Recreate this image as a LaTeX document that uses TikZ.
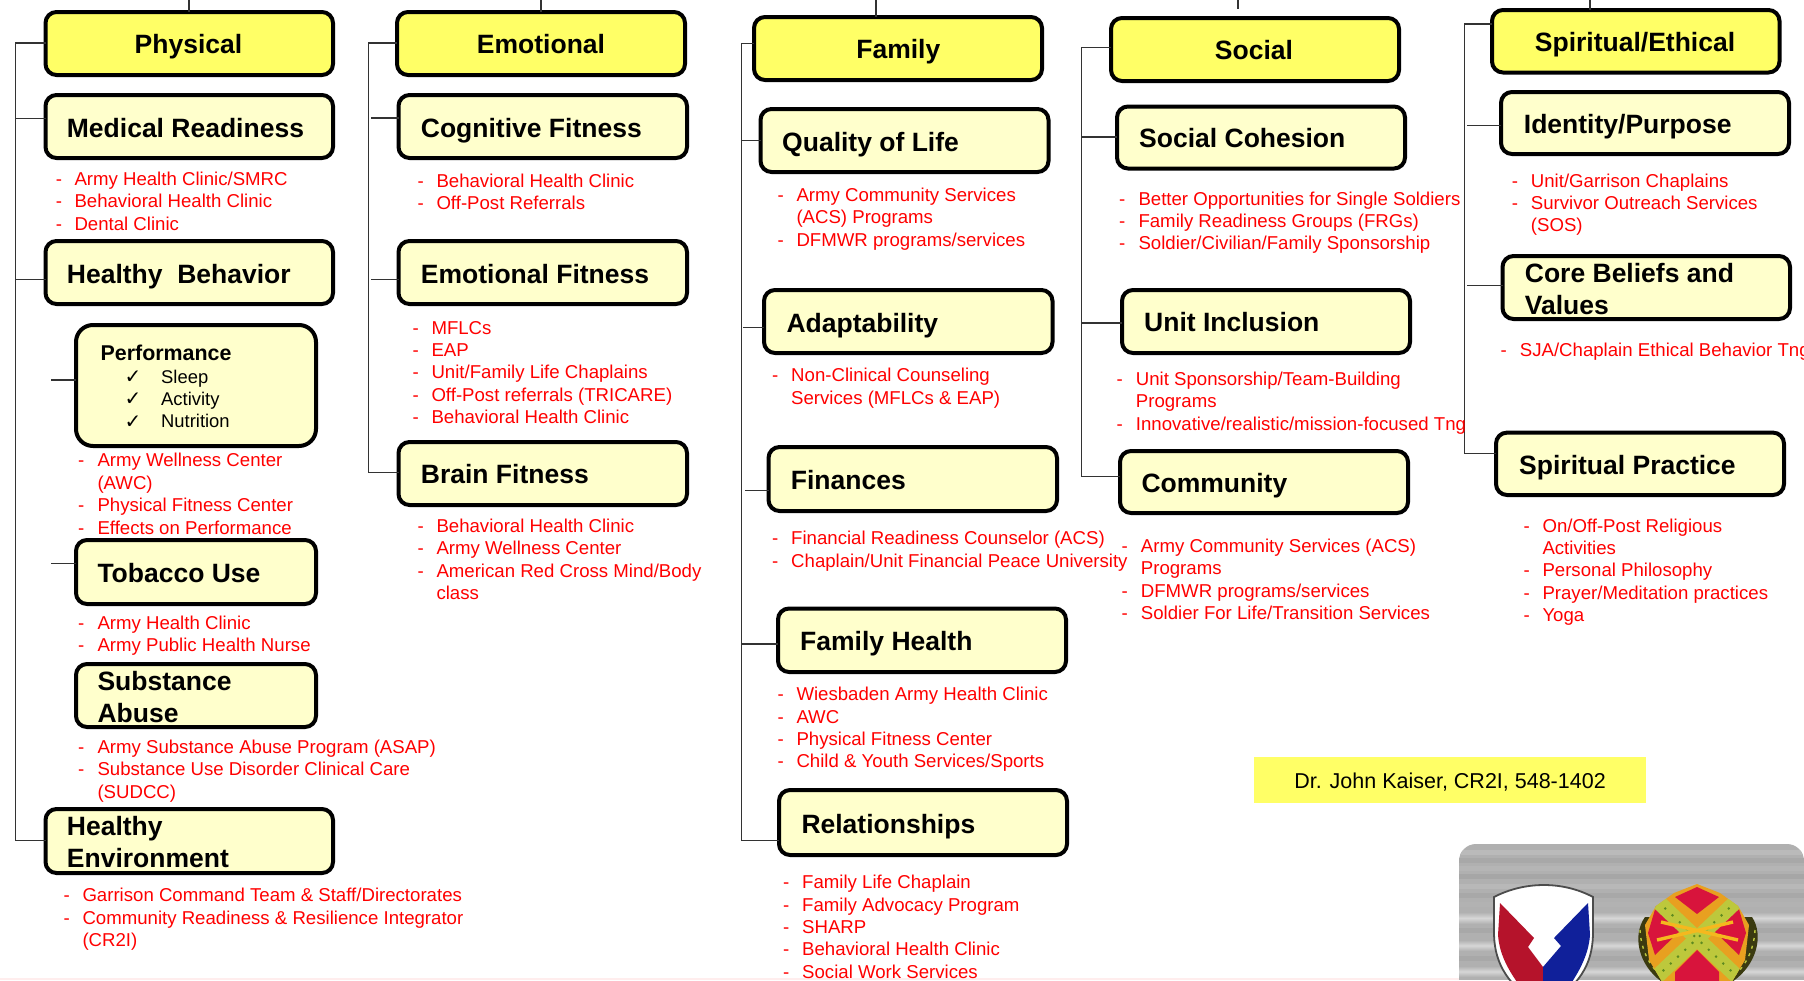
\documentclass[tikz,border=0pt]{standalone}
\usepackage{fontspec}
\setmainfont{Liberation Sans}
\newfontfamily\djfont{DejaVu Sans}
\definecolor{hdyellow}{HTML}{FFFF66}
\definecolor{boxyellow}{HTML}{FFFFCC}
\definecolor{redtxt}{HTML}{FF0000}
\definecolor{linegray}{HTML}{333333}
\definecolor{shieldred}{HTML}{B5132B}
\definecolor{shieldblue}{HTML}{10209A}
\definecolor{embred}{HTML}{D8143C}
\definecolor{embborder}{HTML}{E8A020}
\definecolor{embband}{HTML}{BDC83C}
\definecolor{embdot}{HTML}{5E8A20}
\definecolor{embwreath}{HTML}{3A3A10}
\definecolor{embsword}{HTML}{F5B81E}
\newcount\itemctr
\tikzset{
  x=1pt,y=-1pt,
  hdbox/.style={draw=black,line width=4pt,rounded corners=11pt,fill=hdyellow},
  subbox/.style={draw=black,line width=4pt,rounded corners=11pt,fill=boxyellow},
  conn/.style={draw=linegray,line width=1.3pt},
  boxtitle/.style={anchor=base west,inner sep=0pt,xshift=-1pt,font=\fontsize{26.5}{32}\selectfont\bfseries},
  hdtitle/.style={anchor=base,inner sep=0pt,font=\fontsize{26.5}{32}\selectfont\bfseries},
  redtext/.style={anchor=base west,inner sep=0pt,xshift=-1pt,text=redtxt,font=\fontsize{18.62}{22}\selectfont},
  perfhead/.style={anchor=base west,inner sep=0pt,font=\fontsize{21.4}{25}\selectfont\bfseries},
  perftext/.style={anchor=base west,inner sep=0pt,font=\fontsize{18.4}{22}\selectfont},
  checkmark/.style={anchor=base west,inner sep=0pt,font=\djfont\fontsize{20}{22}\selectfont},
}
% box: name, style, x1, y1, x2, y2
\newcommand{\bx}[6]{\node[#2,inner sep=0pt,minimum width={#5pt-#3pt},minimum height={#6pt-#4pt},outer sep=0pt,anchor=north west,rectangle] (#1) at (#3,#4) {};}
% red list: dashx, textx, baseline, text
\newcommand{\rl}[4]{\global\advance\itemctr by 1
  \node[redtext] (d\the\itemctr) at (#1,#3) {-};
  \node[redtext] (t\the\itemctr) at (#2,#3) {#4};}
% continuation line
\newcommand{\rc}[3]{\global\advance\itemctr by 1
  \node[redtext] (t\the\itemctr) at (#1,#2) {#3};}
\begin{document}
\begin{tikzpicture}
\useasboundingbox (0,0) rectangle (1804,980);
\fill[white] (0,0) rectangle (1804,980);
\fill[white!93!red] (0,978) rectangle (1459,980);

% top stubs and spine coordinates
\coordinate (top1) at (189,0);
\coordinate (top2) at (541,0);
\coordinate (top3) at (876,0);
\coordinate (top4) at (1238,0);
\coordinate (top5) at (1590,0);
\coordinate (top4end) at (1238,9);

\coordinate (sp1a) at (15.5,43);   \coordinate (sp1b) at (15.5,840.7);
\coordinate (sp2a) at (368.7,43);  \coordinate (sp2b) at (368.7,472.5);
\coordinate (sp3a) at (741.5,43.3);\coordinate (sp3b) at (741.5,840.5);
\coordinate (sp4a) at (1081.7,47.8);\coordinate (sp4b) at (1081.7,476.7);
\coordinate (sp5a) at (1464.7,24); \coordinate (sp5b) at (1464.7,453.5);
\coordinate (st1a) at (15.5,118.3);\coordinate (st1b) at (15.5,279.3);
\coordinate (st1c) at (51,380);    \coordinate (st1d) at (51,563.7);
\coordinate (st2a) at (371,118);   \coordinate (st2b) at (371,279.6);
\coordinate (st3a) at (742,140.7); \coordinate (st3b) at (743,327.7);
\coordinate (st3c) at (745,490.7); \coordinate (st3d) at (741.5,644);
\coordinate (st4a) at (1081.7,137);\coordinate (st4b) at (1081.7,323);
\coordinate (st5a) at (1467,125.7);\coordinate (st5b) at (1467,285.7);

% Boxes
\bx{physical}{hdbox}{45.5}{12}{333}{75}
\bx{medical}{subbox}{45.5}{95}{333}{158}
\bx{behavior}{subbox}{45.5}{241}{333}{304}
\bx{performance}{subbox,rounded corners=17pt}{76}{325}{316}{446}
\bx{tobacco}{subbox}{76}{540}{316}{604}
\bx{substance}{subbox}{76}{664}{316}{727}
\bx{environment}{subbox}{45.5}{809}{333}{873}

\bx{emotional}{hdbox}{397}{12}{685}{75}
\bx{cognitive}{subbox}{398.5}{95}{687}{158}
\bx{emofit}{subbox}{398.5}{241}{687}{304}
\bx{brain}{subbox}{398.5}{442}{687}{505}

\bx{family}{hdbox}{754}{17}{1042}{80}
\bx{quality}{subbox}{760.5}{109}{1048.5}{172}
\bx{adapt}{subbox}{764}{290}{1052.5}{353}
\bx{finances}{subbox}{768.5}{447}{1057}{511}
\bx{famhealth}{subbox}{778}{608.5}{1066}{672}
\bx{relation}{subbox}{779}{790}{1067}{855}

\bx{social}{hdbox}{1111}{18}{1399}{81}
\bx{cohesion}{subbox}{1117}{106.5}{1405}{168.5}
\bx{unit}{subbox}{1122}{290}{1410}{353}
\bx{community}{subbox}{1120}{451}{1408}{513}

\bx{spiritual}{hdbox}{1492}{10}{1779.5}{72.5}
\bx{identity}{subbox}{1501}{92}{1789}{154}
\bx{core}{subbox}{1502.5}{256}{1790}{319}
\bx{practice}{subbox}{1496}{432.6}{1784}{495}

% Connectors
\draw[conn] (top1) -- (top1|-physical.north);
\draw[conn] (top2) -- (top2|-emotional.north);
\draw[conn] (top3) -- (top3|-family.north);
\draw[conn] (top4) -- (top4end);
\draw[conn] (top5) -- (top5|-spiritual.north);
\draw[conn] (physical.west|-sp1a) -- (sp1a) -- (sp1b) -- (environment.west|-sp1b);
\draw[conn] (st1a) -- (medical.west|-st1a);
\draw[conn] (st1b) -- (behavior.west|-st1b);
\draw[conn] (st1c) -- (performance.west|-st1c);
\draw[conn] (st1d) -- (tobacco.west|-st1d);
\draw[conn] (emotional.west|-sp2a) -- (sp2a) -- (sp2b) -- (brain.west|-sp2b);
\draw[conn] (st2a) -- (cognitive.west|-st2a);
\draw[conn] (st2b) -- (emofit.west|-st2b);
\draw[conn] (family.west|-sp3a) -- (sp3a) -- (sp3b) -- (relation.west|-sp3b);
\draw[conn] (st3a) -- (quality.west|-st3a);
\draw[conn] (st3b) -- (adapt.west|-st3b);
\draw[conn] (st3c) -- (finances.west|-st3c);
\draw[conn] (st3d) -- (famhealth.west|-st3d);
\draw[conn] (social.west|-sp4a) -- (sp4a) -- (sp4b) -- (community.west|-sp4b);
\draw[conn] (st4a) -- (cohesion.west|-st4a);
\draw[conn] (st4b) -- (unit.west|-st4b);
\draw[conn] (spiritual.west|-sp5a) -- (sp5a) -- (sp5b) -- (practice.west|-sp5b);
\draw[conn] (st5a) -- (identity.west|-st5a);
\draw[conn] (st5b) -- (core.west|-st5b);

% Titles
\node[hdtitle] (lphysical) at (188.5,53) {Physical};
\node[boxtitle] (lmedical) at (67.7,137.3) {Medical Readiness};
\node[boxtitle] (lbehavior) at (67.7,283.3) {Healthy\ \ Behavior};
\node[perfhead] (lperf) at (100.5,360) {Performance};
\node[checkmark] (c1) at (124.5,383) {✓};
\node[checkmark] (c2) at (124.5,405) {✓};
\node[checkmark] (c3) at (124.5,428) {✓};
\node[perftext] (lsleep) at (161,383) {Sleep};
\node[perftext] (lact) at (161,405) {Activity};
\node[perftext] (lnut) at (161,427.5) {Nutrition};
\node[boxtitle] (ltob) at (98.3,582.5) {Tobacco Use};
\node[boxtitle] (lsub) at (98.3,690) {Substance};
\node[boxtitle] (lsub2) at (98.3,722) {Abuse};
\node[boxtitle] (lenv) at (67.7,835.3) {Healthy};
\node[boxtitle] (lenv2) at (67.7,867) {Environment};

\node[hdtitle] (lemo) at (541,53.6) {Emotional};
\node[boxtitle] (lcog) at (421.7,137.8) {Cognitive Fitness};
\node[boxtitle] (lemf) at (421.7,283.4) {Emotional Fitness};
\node[boxtitle] (lbrn) at (421.7,483.4) {Brain Fitness};

\node[hdtitle] (lfam) at (898.3,58.3) {Family};
\node[boxtitle] (lqol) at (783,151.7) {Quality of Life};
\node[boxtitle] (lada) at (787.3,332.3) {Adaptability};
\node[boxtitle] (lfin) at (791.7,489) {Finances};
\node[boxtitle] (lfh) at (801,650.3) {Family Health};
\node[boxtitle] (lrel) at (802.3,833.3) {Relationships};

\node[hdtitle] (lsoc) at (1254,59.6) {Social};
\node[boxtitle] (lcoh) at (1140,147) {Social Cohesion};
\node[boxtitle] (luni) at (1145,331.6) {Unit Inclusion};
\node[boxtitle] (lcom) at (1142.3,492.2) {Community};

\node[hdtitle] (lspi) at (1635,51.4) {Spiritual/Ethical};
\node[boxtitle] (lide) at (1524.7,133) {Identity/Purpose};
\node[boxtitle] (lcor) at (1525.7,282.4) {Core Beliefs and};
\node[boxtitle] (lcor2) at (1525.7,314.3) {Values};
\node[boxtitle] (lpra) at (1520,474.9) {Spiritual Practice};

% Red lists
\rl{56.7}{75.3}{185.7}{Army Health Clinic/SMRC}
\rl{56.7}{75.3}{207.7}{Behavioral Health Clinic}
\rl{56.7}{75.3}{230}{Dental Clinic}
\rl{79}{98.3}{466.7}{Army Wellness Center}
\rc{98.3}{489.3}{(AWC)}
\rl{79}{98.3}{511.7}{Physical Fitness Center}
\rl{79}{98.3}{534.7}{Effects on Performance}
\rl{79}{98.3}{629.7}{Army Health Clinic}
\rl{79}{98.3}{651.7}{Army Public Health Nurse}
\rl{79}{98.3}{753.7}{Army Substance Abuse Program (ASAP)}
\rl{79}{98.3}{775.7}{Substance Use Disorder Clinical Care}
\rc{98.3}{798.3}{(SUDCC)}
\rl{64.3}{83.3}{901.7}{Garrison Command Team \& Staff/Directorates}
\rl{64.3}{83.3}{924.3}{Community Readiness \& Resilience Integrator}
\rc{83.3}{946.7}{(CR2I)}

\rl{418.3}{437.3}{187}{Behavioral Health Clinic}
\rl{418.3}{437.3}{209.2}{Off-Post Referrals}
\rl{413.3}{432.3}{334.5}{MFLCs}
\rl{413.3}{432.3}{356.7}{EAP}
\rl{413.3}{432.3}{378.8}{Unit/Family Life Chaplains}
\rl{413.3}{432.3}{401.7}{Off-Post referrals (TRICARE)}
\rl{413.3}{432.3}{423.5}{Behavioral Health Clinic}
\rl{418.3}{437.3}{532.2}{Behavioral Health Clinic}
\rl{418.3}{437.3}{554.4}{Army Wellness Center}
\rl{418.3}{437.3}{577.3}{American Red Cross Mind/Body}
\rc{437.3}{599.4}{class}

\rl{778.3}{797.3}{201.7}{Army Community Services}
\rc{797.3}{223.3}{(ACS) Programs}
\rl{778.3}{797.3}{246.7}{DFMWR programs/services}
\rl{773}{792}{381.7}{Non-Clinical Counseling}
\rc{792}{404.3}{Services (MFLCs \& EAP)}
\rl{773}{792}{544.3}{Financial Readiness Counselor (ACS)}
\rl{773}{792}{567.3}{Chaplain/Unit Financial Peace University}
\rl{778.3}{797.3}{700.3}{Wiesbaden Army Health Clinic}
\rl{778.3}{797.3}{723}{AWC}
\rl{778.3}{797.3}{745.3}{Physical Fitness Center}
\rl{778.3}{797.3}{767.3}{Child \& Youth Services/Sports}
\rl{784}{803}{888.3}{Family Life Chaplain}
\rl{784}{803}{911.3}{Family Advocacy Program}
\rl{784}{803}{933.3}{SHARP}
\rl{784}{803}{955.3}{Behavioral Health Clinic}
\rl{784}{803}{978}{Social Work Services}

\rl{1120}{1139.3}{205.3}{Better Opportunities for Single Soldiers}
\rl{1120}{1139.3}{227.3}{Family Readiness Groups (FRGs)}
\rl{1120}{1139.3}{249.4}{Soldier/Civilian/Family Sponsorship}
\rl{1117.3}{1136.7}{385.7}{Unit Sponsorship/Team-Building}
\rc{1136.7}{407.3}{Programs}
\rl{1117.3}{1136.7}{430.2}{Innovative/realistic/mission-focused Tng}
\rl{1122.3}{1141.7}{552.7}{Army Community Services (ACS)}
\rc{1141.7}{574.7}{Programs}
\rl{1122.3}{1141.7}{597.6}{DFMWR programs/services}
\rl{1122.3}{1141.7}{619.6}{Soldier For Life/Transition Services}

\rl{1512.7}{1531.7}{187.8}{Unit/Garrison Chaplains}
\rl{1512.7}{1531.7}{209.8}{Survivor Outreach Services}
\rc{1531.7}{231.8}{(SOS)}
\rl{1501.3}{1520.7}{356}{SJA/Chaplain Ethical Behavior Tng}
\rl{1524.3}{1543.3}{532.7}{On/Off-Post Religious}
\rc{1543.3}{554.3}{Activities}
\rl{1524.3}{1543.3}{576.7}{Personal Philosophy}
\rl{1524.3}{1543.3}{599.6}{Prayer/Meditation practices}
\rl{1524.3}{1543.3}{621.6}{Yoga}

% Contact box
\fill[hdyellow] (1254,757.3) rectangle (1646,802.7);
\node[anchor=base,inner sep=0pt,font=\fontsize{21.5}{25}\selectfont] (contact) at (1450,788) {Dr. John Kaiser, CR2I, 548-1402};

% Logo plate
\begin{scope}
\clip[rounded corners=17pt] (1459,844) rectangle (1804,1010);
\fill[black!31] (1459,844) rectangle (1804,980);
\foreach \y/\c in {850/27,858/34,866/29,874/35,884/28,893/34,902/30,928/34,956/34}
  \fill[black!\c] (1459,\y) rectangle (1804,\y+5);
\foreach \ya/\yb in {912/924,940/951,966/977}{
  \shade[top color=black!31,bottom color=black!31,middle color=black!16] (1459,\ya) rectangle (1804,\yb);
}
\end{scope}
% Shield
\begin{scope}
\clip (1480,870) rectangle (1610,980);
\fill[white,draw=black!70,line width=1.8pt] (1494,897) .. controls (1525,881) and (1563,881) .. (1593,897) -- (1593,935) .. controls (1592,965) and (1580,985) .. (1543,1010) .. controls (1508,985) and (1495,965) .. (1494,935) -- cycle;
\fill[shieldred] (1500,903) -- (1534,938) -- (1528,947) -- (1543,967) -- (1543,982) -- (1517,982) .. controls (1505,965) and (1499,950) .. (1498,935) -- cycle;
\fill[shieldblue] (1588,903) -- (1554,938) -- (1561,946) -- (1543,967) -- (1543,982) -- (1572,982) .. controls (1583,965) and (1589,950) .. (1590,935) -- cycle;
\end{scope}
% Emblem
\begin{scope}
\clip (1620,870) rectangle (1780,980);
\fill[embwreath] (1645,917) .. controls (1632,935) and (1638,965) .. (1662,982) -- (1732,982) .. controls (1757,965) and (1764,935) .. (1752,917) -- cycle;
\draw[embband,line width=1.4pt,dash pattern=on 3pt off 5pt] (1640,930) .. controls (1641,950) and (1650,968) .. (1664,978);
\draw[embband,line width=1.4pt,dash pattern=on 3pt off 5pt] (1755,930) .. controls (1754,950) and (1745,968) .. (1731,978);
\begin{scope}
\clip (1697,884) -- (1720,893) -- (1738,906) -- (1749,925) -- (1745,960) -- (1730,985) -- (1664,985) -- (1649,960) -- (1645,925) -- (1656,906) -- (1674,893) -- cycle;
\fill[embborder] (1640,880) rectangle (1755,985);
\fill[embred] (1697,887) -- (1719,897) -- (1697,914) -- (1675,897) -- cycle;
\fill[embred] (1656,906) -- (1681,930) -- (1655,955) -- (1648,933) -- cycle;
\fill[embred] (1738,906) -- (1713,930) -- (1739,955) -- (1746,933) -- cycle;
\draw[embband,line width=15pt] (1650,894) -- (1747,986);
\draw[embband,line width=15pt] (1744,894) -- (1647,986);
\draw[embdot,line width=2pt,dash pattern=on 2pt off 8pt] (1650,894) -- (1747,986);
\draw[embdot,line width=2pt,dash pattern=on 2pt off 8pt] (1744,894) -- (1647,986);
\fill[embred] (1697,950) -- (1719,972) -- (1719,985) -- (1675,985) -- (1675,972) -- cycle;
\end{scope}
\draw[embsword,line width=3.4pt] (1661,922) -- (1738,940);
\draw[embsword,line width=3.4pt] (1733,922) -- (1657,940);
\end{scope}
\end{tikzpicture}
\end{document}
